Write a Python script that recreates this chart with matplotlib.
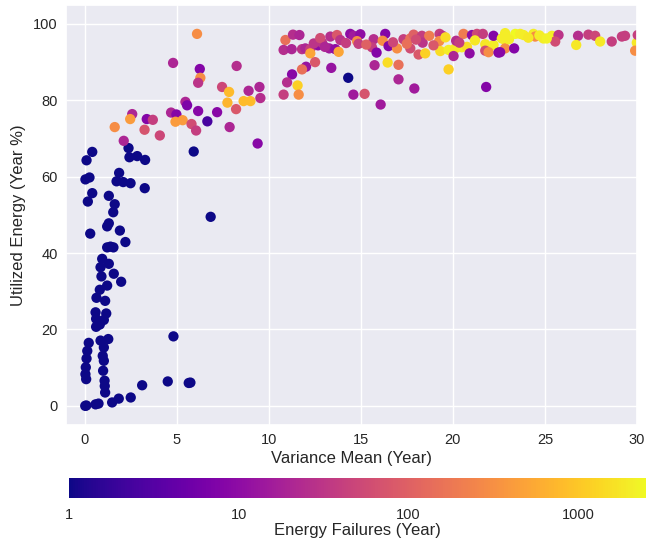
import matplotlib
matplotlib.use("Agg")
import matplotlib.pyplot as plt
import seaborn as sns
import numpy as np
from matplotlib.colors import LogNorm
from matplotlib.ticker import FixedLocator, FixedFormatter

sns.set_theme(style="darkgrid")
plt.rcParams["font.family"] = ["Liberation Sans", "DejaVu Sans"]

# Low-yield sites (few failures)
variance_low = [0.42, 0.11, 2.39, 2.44, 2.86, 3.29, 5.93, 1.88, 0.05, 0.27,
                1.74, 2.10, 2.50, 3.27, 0.42, 0.18, 1.32, 1.64, 1.56, 1.32,
                1.23, 1.92, 0.31, 2.22, 6.85, 1.23, 1.57, 1.41, 0.96, 1.32,
                0.87, 1.59, 0.92, 1.99, 1.23, 0.83, 0.65, 1.12, 0.60, 1.18,
                0.63, 1.05, 0.63, 0.83, 4.83, 0.23, 0.15, 0.11, 0.87, 1.29,
                1.05, 0.99, 1.05, 0.07, 0.05, 0.09, 1.01, 1.09, 1.10, 1.12,
                3.13, 4.52, 5.66, 5.75, 2.51, 1.86, 1.50, 0.76, 0.60, 0.04,
                0.10, 6.67, 14.32]
energy_low = [66.5, 64.3, 67.5, 65.1, 65.4, 64.4, 66.6, 61.0, 59.3, 59.8,
              58.8, 58.6, 58.3, 57.0, 55.7, 53.5, 55.0, 52.8, 50.7, 47.8,
              47.0, 45.9, 45.1, 42.9, 49.5, 41.5, 41.5, 41.7, 38.5, 37.2,
              36.3, 34.6, 33.9, 32.5, 31.5, 30.4, 28.3, 27.5, 24.5, 24.2,
              22.8, 22.5, 20.7, 21.3, 18.2, 16.5, 14.4, 12.4, 17.1, 17.5,
              15.3, 13.1, 11.8, 10.1, 8.3, 7.0, 9.2, 6.6, 5.2, 3.5,
              5.4, 6.4, 6.0, 6.1, 2.2, 1.9, 0.9, 0.6, 0.4, 0.0,
              0.1, 74.5, 85.9]
failures_low = [1] * 71 + [2.5, 1]

# High-yield sites
variance_high = [4.81, 6.26, 6.29, 6.17, 8.26, 7.47, 7.85, 7.76, 8.91, 8.64,
                 9.01, 8.23, 9.50, 9.55, 2.59, 2.48, 3.38, 3.71, 1.64, 3.26,
                 4.09, 2.13, 4.70, 4.99, 4.94, 5.33, 5.48, 5.57, 6.17, 5.81,
                 6.06, 7.20, 7.88, 9.40, 6.11, 10.91, 10.81, 11.25, 11.32, 11.67,
                 11.81, 11.99, 12.26, 12.26, 12.68, 12.90, 13.35, 13.71, 13.89, 13.29,
                 13.62, 13.80, 14.43, 14.61, 14.98, 14.80, 14.88, 15.70, 15.61, 16.33,
                 16.19, 16.51, 16.97, 15.86, 16.46, 17.05, 15.75, 17.05, 11.27, 11.00,
                 12.03, 11.81, 12.52, 11.57, 11.63, 10.81, 13.40, 14.60, 15.21, 16.08,
                 17.91, 17.32, 17.69, 17.87, 18.32, 18.36, 18.72, 19.28, 19.44, 19.26,
                 17.69, 18.14, 18.50, 19.32, 19.77, 20.13, 20.49, 20.77, 20.04, 20.18,
                 20.58, 21.04, 21.31, 21.63, 20.91, 19.77, 21.81, 21.76, 22.21, 21.76,
                 21.94, 22.48, 22.21, 22.66, 22.84, 22.84, 23.39, 23.66, 23.84, 24.38,
                 24.47, 24.92, 25.38, 25.74, 25.56, 22.84, 23.33, 22.57, 26.80, 26.70,
                 27.36, 27.73, 28.00, 28.63, 29.18, 29.35, 29.99, 29.90, 30.04,
                 12.45, 12.80, 13.05, 14.20, 15.30, 16.75, 17.50, 18.00, 18.95, 19.60,
                 20.35, 21.20, 23.05, 24.10, 24.70, 25.10]
energy_high = [89.8, 88.2, 85.9, 84.6, 89.0, 83.5, 82.2, 79.4, 82.5, 79.8,
               79.8, 77.7, 83.5, 80.6, 76.4, 75.1, 75.1, 74.9, 73.0, 72.3,
               70.8, 69.4, 76.8, 76.3, 74.4, 74.8, 79.6, 78.7, 77.2, 73.8,
               72.1, 76.9, 73.0, 68.7, 97.4, 95.8, 93.2, 93.4, 97.2, 97.1,
               93.4, 93.6, 93.4, 92.3, 94.4, 95.1, 96.7, 97.1, 95.8, 93.6,
               93.4, 92.7, 97.4, 96.9, 97.3, 95.5, 94.8, 96.0, 93.9, 97.4,
               95.6, 94.2, 93.6, 92.5, 89.9, 89.3, 89.2, 85.5, 86.8, 84.7,
               88.8, 88.1, 90.0, 83.9, 81.5, 81.5, 88.5, 81.5, 81.7, 78.9,
               83.1, 96.0, 96.2, 97.2, 96.9, 95.1, 96.9, 97.4, 96.9, 95.5,
               93.6, 92.0, 92.3, 92.9, 93.2, 93.6, 93.9, 94.0, 91.6, 95.6,
               97.4, 97.1, 97.4, 97.4, 92.3, 88.1, 83.5, 94.7, 94.5, 93.0,
               92.6, 92.5, 96.9, 96.2, 95.8, 97.6, 97.4, 97.4, 97.1, 97.4,
               96.7, 96.2, 96.9, 97.1, 95.4, 93.6, 93.6, 92.6, 96.9, 94.5,
               97.2, 96.9, 95.4, 95.4, 96.7, 96.9, 95.1, 93.0, 97.1,
               94.9, 96.3, 94.0, 95.0, 94.6, 95.2, 94.8, 95.9, 94.4, 96.5,
               95.1, 95.7, 96.0, 96.4, 97.0, 96.2]
failures_high = [20, 8, 300, 30, 25, 50, 800, 700, 20, 800,
                 800, 80, 20, 25, 20, 400, 8, 40, 300, 70,
                 50, 20, 20, 8, 400, 400, 20, 7, 9, 60,
                 40, 9, 20, 9, 300, 150, 25, 20, 25, 20,
                 30, 20, 40, 500, 10, 30, 25, 80, 30, 15,
                 10, 500, 10, 15, 10, 300, 40, 25, 40, 8,
                 300, 8, 300, 8, 1500, 150, 20, 20, 9, 25,
                 12, 150, 80, 1200, 300, 40, 12, 15, 70, 15,
                 15, 40, 150, 100, 40, 30, 200, 40, 30, 300,
                 60, 80, 1200, 1500, 2000, 1800, 2000, 1500, 20, 25,
                 200, 10, 50, 40, 10, 1200, 8, 1800, 2000, 60,
                 300, 8, 8, 2000, 2000, 2000, 2500, 2000, 2000, 2000,
                 300, 2000, 2000, 30, 60, 300, 8, 9, 25, 1800,
                 40, 50, 1800, 40, 40, 40, 1800, 300, 40,
                 30, 60, 20, 40, 100, 50, 150, 60, 80, 1500,
                 40, 1800, 2000, 1800, 2000, 2200]

x = np.array(variance_low + variance_high)
y = np.array(energy_low + energy_high)
c = np.array(failures_low + failures_high, dtype=float)

fig = plt.figure(figsize=(6.48, 5.4), dpi=100)
ax = fig.add_axes([0.102, 0.213, 0.881, 0.778])
cax = fig.add_axes([0.106, 0.078, 0.891, 0.037])

norm = LogNorm(vmin=1, vmax=2500)
sc = ax.scatter(x, y, c=c, cmap="plasma", norm=norm, s=55, edgecolors="none")

ax.set_xlim(-1, 30)
ax.set_ylim(-5, 105)
ax.set_xticks([0, 5, 10, 15, 20, 25, 30])
ax.set_yticks([0, 20, 40, 60, 80, 100])
ax.tick_params(labelsize=10.5, colors="#262626", length=0, pad=6)
ax.set_xlabel("Variance Mean (Year)", fontsize=12, color="#262626", labelpad=3)
ax.set_ylabel("Utilized Energy (Year %)", fontsize=12, color="#262626", labelpad=5)

cb = fig.colorbar(sc, cax=cax, orientation="horizontal")
cb.outline.set_visible(False)
cb.ax.xaxis.set_major_locator(FixedLocator([1, 10, 100, 1000]))
cb.ax.xaxis.set_major_formatter(FixedFormatter(["1", "10", "100", "1000"]))
cb.ax.xaxis.set_minor_locator(FixedLocator([]))
cb.ax.tick_params(labelsize=10.5, colors="#262626", length=0, pad=7)
cb.set_label("Energy Failures (Year)", fontsize=12, color="#262626", labelpad=1)

fig.savefig("out.png", dpi=100)
